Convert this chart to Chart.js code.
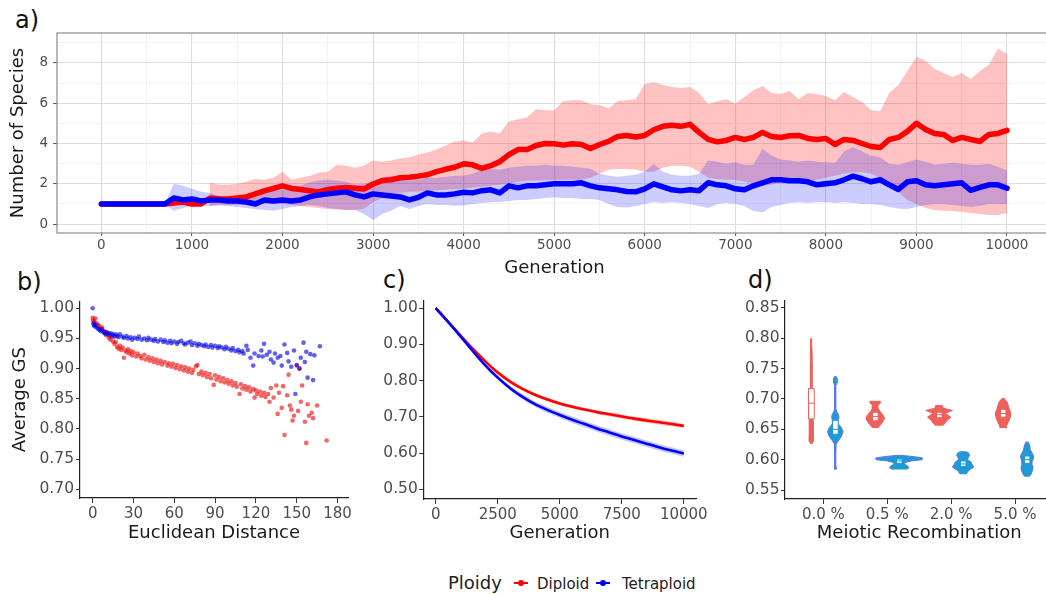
<!DOCTYPE html>
<html><head><meta charset="utf-8">
<script src="https://cdn.jsdelivr.net/npm/chart.js@4.4.1/dist/chart.umd.min.js"></script>
<style>
html,body{margin:0;padding:0;width:1046px;height:594px;overflow:hidden;background:#fff;font-family:"DejaVu Sans",sans-serif;}
canvas{position:absolute;}
.lab{position:absolute;font-size:24px;line-height:24px;color:#111;}
.leg{position:absolute;top:573px;line-height:20px;color:#222;white-space:nowrap;}
.gl{position:absolute;top:582px;height:2px;width:14px;}
.gd{position:absolute;top:580px;width:6px;height:6px;border-radius:3px;}
</style></head>
<body>
<div class="lab" style="left:15px;top:8px">a)</div>
<div class="lab" style="left:17px;top:270px">b)</div>
<div class="lab" style="left:383px;top:268px">c)</div>
<div class="lab" style="left:748px;top:268px">d)</div>

<canvas id="ca" width="1060" height="290" style="left:0;top:0"></canvas>
<canvas id="cb" width="360" height="260" style="left:0;top:290px"></canvas>
<canvas id="cc" width="350" height="260" style="left:360px;top:290px"></canvas>
<canvas id="cd" width="360" height="260" style="left:700px;top:290px"></canvas>

<div class="leg" style="left:448px;font-size:18px;">Ploidy</div>
<div class="gl" style="left:514px;background:#ff0000"></div><div class="gd" style="left:518px;background:#ff0000"></div>
<div class="leg" style="left:537px;font-size:15px;top:574px">Diploid</div>
<div class="gl" style="left:596px;background:#0000ff"></div><div class="gd" style="left:600px;background:#0000ff"></div>
<div class="leg" style="left:622px;font-size:15px;top:574px">Tetraploid</div>

<script>
// ---------------- Panel a: number of species over generations ----------------
const aGen = [0,100,200,300,400,500,600,700,800,900,1000,1100,1200,1300,1400,1500,1600,1700,1800,1900,
2000,2100,2200,2300,2400,2500,2600,2700,2800,2900,3000,3100,3200,3300,3400,3500,3600,3700,3800,3900,
4000,4100,4200,4300,4400,4500,4600,4700,4800,4900,5000,5100,5200,5300,5400,5500,5600,5700,5800,5900,
6000,6100,6200,6300,6400,6500,6600,6700,6800,6900,7000,7100,7200,7300,7400,7500,7600,7700,7800,7900,
8000,8100,8200,8300,8400,8500,8600,8700,8800,8900,9000,9100,9200,9300,9400,9500,9600,9700,9800,9900,10000];
const aTetMean = [1.0,1.0,1.0,1.0,1.0,1.0,1.0,1.0,1.3,1.2,1.25,1.15,1.2,1.2,1.15,1.15,1.1,1.0,1.2,1.15,
1.2,1.15,1.2,1.35,1.45,1.5,1.55,1.6,1.45,1.35,1.5,1.45,1.4,1.35,1.2,1.33,1.55,1.45,1.45,1.5,
1.58,1.55,1.66,1.7,1.55,1.9,1.8,1.9,1.9,1.95,2.0,2.0,2.0,2.05,1.9,1.8,1.75,1.7,1.62,1.6,
1.75,2.0,1.85,1.7,1.65,1.7,1.66,2.05,1.95,1.9,1.75,1.7,1.9,2.05,2.2,2.2,2.15,2.15,2.1,1.95,
2.0,2.05,2.2,2.38,2.25,2.1,2.2,1.95,1.72,2.1,2.15,1.95,1.9,1.95,2.0,2.05,1.68,1.82,1.95,1.95,1.78];
const aTetHi = [null,null,null,null,null,null,null,1.0,2.0,1.9,1.75,1.6,1.55,1.4,1.4,1.4,1.4,1.45,1.6,1.66,
1.7,1.75,1.9,2.07,2.16,2.2,2.16,2.1,1.95,2.0,2.1,2.3,2.4,2.2,2.15,2.2,2.3,2.3,2.35,2.4,
2.4,2.5,2.7,2.75,2.7,2.8,2.85,2.9,2.9,2.95,2.9,2.9,2.85,2.8,2.75,2.5,2.4,2.35,2.4,2.45,
2.6,2.99,2.6,2.45,2.4,2.4,2.5,3.15,3.1,3.0,3.07,2.95,2.95,3.74,3.4,3.2,3.15,3.1,3.15,3.1,
3.07,3.05,3.6,3.82,3.6,3.4,3.3,3.0,2.95,3.07,3.2,3.1,2.95,3.0,3.05,3.0,2.95,2.95,3.0,2.85,2.66];
const aTetLo = [null,null,null,null,null,null,null,1.0,0.66,0.8,0.9,0.9,0.9,0.92,0.9,0.85,0.8,0.75,0.7,0.66,
0.75,0.85,0.9,0.95,0.9,0.8,0.75,0.7,0.7,0.5,0.2,0.5,0.66,0.9,0.75,0.9,1.0,0.95,0.95,0.91,
0.92,1.0,1.05,1.08,1.1,1.15,1.2,1.2,1.25,1.3,1.33,1.3,1.3,1.25,1.25,1.2,1.0,0.85,0.83,0.9,
1.0,1.1,1.05,1.08,1.05,1.0,0.9,0.8,1.0,1.05,1.0,0.9,0.65,0.58,0.85,0.95,1.05,1.08,1.05,1.08,
1.08,1.05,1.08,1.05,1.0,1.0,0.95,0.85,0.78,0.75,0.85,0.95,1.0,1.0,0.95,0.9,0.85,0.9,1.0,1.0,1.0];
const aDipMean = [1.0,1.0,1.0,1.0,1.0,1.0,1.0,1.0,1.05,1.1,1.0,1.0,1.3,1.25,1.25,1.3,1.35,1.5,1.65,1.77,
1.9,1.77,1.72,1.66,1.6,1.72,1.78,1.82,1.78,1.74,1.99,2.16,2.2,2.3,2.33,2.38,2.45,2.6,2.72,2.82,
2.99,2.94,2.76,2.9,3.1,3.45,3.7,3.7,3.9,4.0,3.99,3.92,3.99,3.95,3.75,3.95,4.1,4.35,4.4,4.32,
4.4,4.68,4.85,4.9,4.85,4.95,4.55,4.2,4.08,4.15,4.3,4.2,4.3,4.55,4.35,4.3,4.38,4.4,4.25,4.2,
4.25,3.95,4.2,4.15,4.0,3.85,3.8,4.2,4.3,4.6,5.0,4.7,4.5,4.45,4.15,4.3,4.2,4.1,4.45,4.5,4.65];
const aDipHi = [null,null,null,null,null,null,null,null,null,null,null,null,2.07,1.95,1.95,2.0,2.1,2.24,2.2,2.3,
2.6,2.2,2.3,2.4,2.55,2.6,2.95,2.9,2.8,2.9,3.15,3.1,3.15,3.25,3.3,3.45,3.55,3.7,3.9,4.1,
4.15,4.05,4.5,4.6,4.5,5.1,5.2,5.3,5.7,5.65,5.65,6.1,6.15,6.15,5.95,5.9,5.75,6.1,6.15,6.2,
6.95,7.05,6.9,6.8,6.75,6.8,6.5,5.95,6.1,6.2,5.98,6.3,6.64,6.85,6.5,6.45,6.6,6.2,6.5,6.45,
6.35,6.15,6.55,6.3,6.06,5.65,5.6,6.5,6.9,7.6,8.3,8.1,7.7,7.5,7.3,7.5,7.2,7.6,7.9,8.7,8.45];
const aDipLo = [null,null,null,null,null,null,null,null,null,null,null,null,0.9,0.95,0.95,0.95,0.95,1.0,1.0,1.0,
1.0,0.95,0.9,0.85,0.8,0.75,0.72,0.7,0.7,0.75,1.1,1.3,1.5,1.55,1.6,1.62,1.65,1.68,1.7,1.74,
1.75,1.8,1.85,1.9,1.95,2.0,2.1,2.15,2.16,2.18,2.2,2.2,2.2,2.2,2.3,2.5,2.7,2.74,2.74,2.7,
2.6,2.6,2.8,2.9,2.9,2.85,2.6,2.3,2.24,2.2,2.2,2.1,2.0,1.9,1.95,2.08,2.1,2.1,2.15,2.2,
2.3,2.4,2.5,2.57,2.57,2.5,2.3,2.0,1.6,1.2,1.0,0.8,0.7,0.66,0.65,0.6,0.55,0.5,0.45,0.45,0.55];
const aXTicks = [0,500,1000,1500,2000,2500,3000,3500,4000,4500,5000,5500,6000,6500,7000,7500,8000,8500,9000,9500,10000];
const aXLabels = ['0','','1000','','2000','','3000','','4000','','5000','','6000','','7000','','8000','','9000','','10000'];
const aYTicks = [0,1,2,3,4,5,6,7,8,9];
const aYLabels = ['0','','2','','4','','6','','8',''];

// ---------------- Panel b: Average GS vs Euclidean distance ----------------
const bDipX = [0,0.5,1,2,3,4,5,6,7,8,9,10,11,12,13,14,15,16,17,18,19,20,21,22,23,24,25,26,27,28,29,30,32,33,35,36,38,39,41,42,44,45,47,48,50,51,53,55,56,58,59,61,62,64,65,67,68,70,71,73,74,76,77,78,80,81,83,84,86,87,89,90,91,93,94,96,97,99,100,102,103,105,106,108,109,110,112,113,115,116,118,119,120,121,123,124,126,127,129,130,131,133,135,136,137,139,140,141,143,144,145,146,147,148,150,151,152,153,154,156,157,158,159,161,162,165,172];
const bDipY = [0.984,0.980,0.978,0.983,0.975,0.972,0.970,0.966,0.968,0.962,0.960,0.955,0.958,0.951,0.948,0.952,0.945,0.941,0.944,0.936,0.933,0.938,0.931,0.935,0.918,0.930,0.927,0.932,0.925,0.929,0.922,0.927,0.920,0.925,0.921,0.917,0.923,0.915,0.919,0.913,0.917,0.911,0.915,0.909,0.913,0.907,0.911,0.905,0.909,0.903,0.908,0.901,0.906,0.899,0.904,0.897,0.902,0.895,0.900,0.893,0.898,0.904,0.906,0.891,0.895,0.889,0.893,0.886,0.891,0.884,0.873,0.889,0.882,0.886,0.879,0.884,0.877,0.881,0.875,0.879,0.872,0.876,0.870,0.858,0.874,0.867,0.871,0.865,0.869,0.862,0.866,0.852,0.864,0.858,0.862,0.855,0.860,0.853,0.858,0.845,0.868,0.852,0.872,0.825,0.860,0.835,0.871,0.790,0.856,0.890,0.839,0.832,0.814,0.822,0.905,0.830,0.900,0.845,0.872,0.812,0.777,0.841,0.822,0.827,0.818,0.839,0.781];
const bTetX = [0,0.5,1,1.5,2,3,4,5,6,7,8,9,10,11,12,13,14,15,16,17,18,19,20,22,23,25,26,28,29,31,33,34,36,38,40,41,43,45,46,48,50,52,53,55,57,58,60,62,63,65,67,68,70,72,73,75,77,78,80,82,83,85,87,88,90,92,93,95,97,98,100,102,103,105,107,108,110,111,113,114,116,118,119,122,124,125,126,128,130,131,133,134,136,138,139,141,143,144,146,148,149,150,152,153,155,156,157,158,160,162,163,167];
const bTetY = [1.000,0.975,0.972,0.970,0.973,0.968,0.966,0.964,0.962,0.965,0.960,0.958,0.961,0.957,0.959,0.955,0.958,0.956,0.953,0.957,0.954,0.952,0.957,0.953,0.951,0.954,0.950,0.952,0.948,0.951,0.949,0.953,0.948,0.950,0.947,0.951,0.948,0.946,0.949,0.945,0.948,0.944,0.947,0.943,0.946,0.942,0.945,0.941,0.944,0.946,0.942,0.940,0.943,0.945,0.939,0.942,0.938,0.941,0.939,0.937,0.940,0.936,0.939,0.935,0.938,0.934,0.937,0.935,0.932,0.936,0.933,0.930,0.934,0.929,0.931,0.927,0.929,0.925,0.938,0.931,0.918,0.905,0.925,0.921,0.930,0.920,0.941,0.923,0.928,0.915,0.910,0.925,0.918,0.921,0.905,0.940,0.926,0.912,0.903,0.930,0.858,0.906,0.900,0.918,0.943,0.911,0.928,0.885,0.924,0.881,0.922,0.937];
const bXTicks = [0,30,60,90,120,150,180];
const bXLabels = ['0','30','60','90','120','150','180'];
const bYTicks = [0.70,0.75,0.80,0.85,0.90,0.95,1.00];
const bYLabels = ['0.70','0.75','0.80','0.85','0.90','0.95','1.00'];

// ---------------- Panel c: Average GS over generations ----------------
const cGen = [0,500,1000,1500,2000,2500,3000,3500,4000,4500,5000,5500,6000,6500,7000,7500,8000,8500,9000,9500,10000];
const cDip   = [1.000,0.962,0.924,0.887,0.853,0.822,0.797,0.777,0.761,0.748,0.737,0.728,0.720,0.713,0.707,0.701,0.695,0.690,0.685,0.680,0.675];
const cDipLo = [0.999,0.959,0.920,0.883,0.849,0.817,0.792,0.772,0.756,0.743,0.732,0.723,0.715,0.708,0.701,0.695,0.689,0.683,0.678,0.673,0.669];
const cDipHi = [1.001,0.965,0.928,0.891,0.857,0.827,0.802,0.782,0.766,0.753,0.742,0.733,0.725,0.718,0.713,0.707,0.701,0.697,0.692,0.687,0.681];
const cTet   = [1.000,0.962,0.922,0.881,0.842,0.808,0.779,0.755,0.735,0.719,0.705,0.692,0.680,0.668,0.657,0.646,0.636,0.626,0.616,0.607,0.599];
const cTetLo = [0.999,0.959,0.918,0.877,0.837,0.802,0.773,0.748,0.728,0.711,0.697,0.683,0.671,0.659,0.648,0.637,0.627,0.617,0.607,0.598,0.590];
const cTetHi = [1.001,0.965,0.926,0.885,0.847,0.814,0.785,0.762,0.742,0.727,0.713,0.701,0.689,0.677,0.666,0.655,0.645,0.635,0.625,0.616,0.608];
const cXTicks = [0,2500,5000,7500,10000];
const cXLabels = ['0','2500','5000','7500','10000'];
const cYTicks = [0.50,0.60,0.70,0.80,0.90,1.00];
const cYLabels = ['0.50','0.60','0.70','0.80','0.90','1.00'];

// ---------------- Panel d: violins by meiotic recombination ----------------
const dCategories = ['0.0 %','0.5 %','2.0 %','5.0 %'];
const dDipY00 = [0.626,0.630,0.640,0.650,0.660,0.670,0.680,0.700,0.730,0.760,0.785,0.799];
const dDipW00 = [0.008,0.028,0.034,0.034,0.031,0.025,0.019,0.016,0.0125,0.011,0.009,0.006];
const dDipY05 = [0.652,0.655,0.660,0.665,0.669,0.674,0.679,0.684,0.688,0.691,0.693,0.696];
const dDipW05 = [0.039,0.0625,0.102,0.133,0.144,0.117,0.078,0.047,0.039,0.055,0.078,0.078];
const dDipY20 = [0.656,0.660,0.665,0.670,0.673,0.676,0.679,0.681,0.684,0.686,0.689];
const dDipW20 = [0.055,0.094,0.125,0.183,0.141,0.094,0.156,0.208,0.094,0.055,0.052];
const dDipY50 = [0.652,0.656,0.661,0.667,0.672,0.678,0.684,0.690,0.695,0.699,0.701];
const dDipW50 = [0.047,0.055,0.078,0.102,0.117,0.117,0.094,0.078,0.0625,0.031,0.016];
const dTetY00 = [0.584,0.587,0.592,0.610,0.626,0.631,0.638,0.646,0.653,0.659,0.664,0.669,0.674,0.679,0.684,0.700,0.722,0.727,0.733,0.737];
const dTetW00 = [0.019,0.016,0.008,0.008,0.0125,0.047,0.094,0.122,0.094,0.044,0.039,0.058,0.05,0.023,0.009,0.008,0.009,0.028,0.031,0.0125];
const dTetY05 = [0.584,0.586,0.589,0.592,0.595,0.598,0.600,0.603,0.605,0.607];
const dTetW05 = [0.094,0.148,0.141,0.094,0.078,0.1875,0.36,0.36,0.234,0.047];
const dTetY20 = [0.576,0.580,0.584,0.588,0.592,0.596,0.600,0.603,0.607,0.611,0.613];
const dTetW20 = [0.047,0.07,0.109,0.169,0.141,0.125,0.07,0.078,0.102,0.086,0.047];
const dTetY50 = [0.572,0.576,0.582,0.588,0.592,0.596,0.601,0.606,0.611,0.616,0.621,0.626,0.629];
const dTetW50 = [0.031,0.0625,0.086,0.094,0.078,0.078,0.094,0.102,0.078,0.055,0.047,0.031,0.016];
const dDipQ1  = [0.667,0.664,0.669,0.670];
const dDipMed = [0.693,0.671,0.674,0.676];
const dDipQ3  = [0.717,0.678,0.678,0.683];
const dTetQ1  = [0.642,0.594,0.589,0.594];
const dTetMed = [0.650,0.598,0.593,0.600];
const dTetQ3  = [0.665,0.601,0.598,0.606];
const dYTicks = [0.55,0.60,0.65,0.70,0.75,0.80,0.85];
const dYLabels = ['0.55','0.60','0.65','0.70','0.75','0.80','0.85'];

// ---------------- common ----------------
const RED = '#ff0000', BLUE = '#0000ff';
const TICKCOL = '#4d4d4d', TITLECOL = '#1a1a1a';
Chart.defaults.font.family = '"DejaVu Sans", sans-serif';
Chart.defaults.animation = false;
Chart.defaults.plugins.legend.display = false;
Chart.defaults.plugins.tooltip.enabled = false;

const xy = (xs, ys) => xs.map((x, i) => ({x: x, y: ys[i]}));
const setTicks = vals => s => { s.ticks = vals.map(v => ({value: v})); };

function classicAxis(o) {
  return {
    type: 'linear', min: o.min, max: o.max,
    afterBuildTicks: setTicks(o.ticks),
    afterFit: s => { if (s.isHorizontal()) s.height = o.size; else s.width = o.size; },
    ticks: {callback: (v, i) => o.labels[i], autoSkip: false, maxRotation: 0, minRotation: 0,
            padding: o.pad, color: TICKCOL, font: {size: o.fs}},
    grid: {display: true, drawOnChartArea: false, drawTicks: true, tickLength: o.tl, tickColor: '#333', tickWidth: 1},
    border: {display: true, color: '#222', width: 1.2},
    title: o.title ? {display: true, text: o.title, color: TITLECOL, font: {size: 18}, padding: o.tpad} : {display: false}
  };
}

const panelBorder = {
  id: 'panelBorder',
  afterDraw(chart) {
    const a = chart.chartArea, ctx = chart.ctx;
    ctx.save(); ctx.strokeStyle = '#8c8c8c'; ctx.lineWidth = 1.2;
    ctx.strokeRect(a.left, a.top, a.right - a.left, a.bottom - a.top);
    ctx.restore();
  }
};

// ---------------- chart a ----------------
const lineA = {tension: 0, pointRadius: 0, borderJoinStyle: 'round', borderCapStyle: 'round'};
new Chart(document.getElementById('ca'), {
  type: 'line',
  data: {datasets: [
    Object.assign({data: xy(aGen, aTetMean), borderColor: BLUE, borderWidth: 5.5, fill: false}, lineA),
    Object.assign({data: xy(aGen, aDipMean), borderColor: RED, borderWidth: 5.5, fill: false}, lineA),
    Object.assign({data: xy(aGen, aTetHi), borderWidth: 0, borderColor: 'rgba(0,0,0,0)', backgroundColor: 'rgba(0,0,255,0.2)', fill: '+1'}, lineA),
    Object.assign({data: xy(aGen, aTetLo), borderWidth: 0, borderColor: 'rgba(0,0,0,0)', fill: false}, lineA),
    Object.assign({data: xy(aGen, aDipHi), borderWidth: 0, borderColor: 'rgba(0,0,0,0)', backgroundColor: 'rgba(255,0,0,0.24)', fill: '+1'}, lineA),
    Object.assign({data: xy(aGen, aDipLo), borderWidth: 0, borderColor: 'rgba(0,0,0,0)', fill: false}, lineA)
  ]},
  options: {
    responsive: false, devicePixelRatio: 1,
    layout: {padding: {top: 33, right: 8, bottom: 0, left: 0}},
    scales: {
      x: {type: 'linear', min: -490, max: 10497,
        afterBuildTicks: setTicks(aXTicks),
        afterFit: s => { s.height = 57; },
        ticks: {callback: (v, i) => aXLabels[i], autoSkip: false, maxRotation: 0, minRotation: 0, padding: 1, color: TICKCOL, font: {size: 13.5}},
        grid: {color: c => (c.tick && c.tick.value % 1000 === 0) ? '#dedede' : '#f0f0f0',
               lineWidth: c => (c.tick && c.tick.value % 1000 === 0) ? 1.1 : 0.8,
               tickLength: 3, tickWidth: 1,
               tickColor: c => (c.tick && c.tick.value % 1000 === 0) ? '#555' : 'rgba(0,0,0,0)'},
        border: {display: false},
        title: {display: true, text: 'Generation', color: TITLECOL, font: {size: 18}, padding: {top: 0, bottom: 11.2}}
      },
      y: {type: 'linear', min: -0.44, max: 9.48,
        afterBuildTicks: setTicks(aYTicks),
        afterFit: s => { s.width = 57; },
        ticks: {callback: (v, i) => aYLabels[i], autoSkip: false, padding: 5, color: TICKCOL, font: {size: 13.5}},
        grid: {color: c => (c.tick && c.tick.value % 2 === 0) ? '#dedede' : '#f0f0f0',
               lineWidth: c => (c.tick && c.tick.value % 2 === 0) ? 1.1 : 0.8,
               tickLength: 4, tickWidth: 1,
               tickColor: c => (c.tick && c.tick.value % 2 === 0) ? '#555' : 'rgba(0,0,0,0)'},
        border: {display: false},
        title: {display: true, text: 'Number of Species', color: TITLECOL, font: {size: 18}, padding: {top: 7.2, bottom: 0}}
      }
    }
  },
  plugins: [panelBorder]
});

// ---------------- chart b ----------------
new Chart(document.getElementById('cb'), {
  type: 'scatter',
  data: {datasets: [
    {data: xy(bTetX, bTetY), backgroundColor: 'rgba(0,0,235,0.62)', pointRadius: 2.3, pointBorderWidth: 0},
    {data: xy(bDipX, bDipY), backgroundColor: 'rgba(240,0,0,0.6)', pointRadius: 2.3, pointBorderWidth: 0}
  ]},
  options: {
    responsive: false, devicePixelRatio: 1,
    layout: {padding: {top: 10, right: 12, bottom: 0, left: 0}},
    scales: {
      x: classicAxis({min: -9.3, max: 187.7, ticks: bXTicks, labels: bXLabels, size: 52, pad: 2, tl: 5, fs: 15,
                      title: 'Euclidean Distance', tpad: {top: 0, bottom: 6.2}}),
      y: classicAxis({min: 0.6857, max: 1.0115, ticks: bYTicks, labels: bYLabels, size: 80, pad: 2, tl: 4, fs: 15.5,
                      title: 'Average GS', tpad: {top: 9.2, bottom: 0}})
    }
  }
});

// ---------------- chart c ----------------
const lineC = {tension: 0.4, cubicInterpolationMode: 'monotone', pointRadius: 0};
new Chart(document.getElementById('cc'), {
  type: 'line',
  data: {datasets: [
    Object.assign({data: xy(cGen, cTet), borderColor: BLUE, borderWidth: 2.6, fill: false}, lineC),
    Object.assign({data: xy(cGen, cDip), borderColor: RED, borderWidth: 2.6, fill: false}, lineC),
    Object.assign({data: xy(cGen, cTetHi), borderWidth: 0, borderColor: 'rgba(0,0,0,0)', backgroundColor: 'rgba(0,0,255,0.22)', fill: '+1'}, lineC),
    Object.assign({data: xy(cGen, cTetLo), borderWidth: 0, borderColor: 'rgba(0,0,0,0)', fill: false}, lineC),
    Object.assign({data: xy(cGen, cDipHi), borderWidth: 0, borderColor: 'rgba(0,0,0,0)', backgroundColor: 'rgba(255,0,0,0.22)', fill: '+1'}, lineC),
    Object.assign({data: xy(cGen, cDipLo), borderWidth: 0, borderColor: 'rgba(0,0,0,0)', fill: false}, lineC)
  ]},
  options: {
    responsive: false, devicePixelRatio: 1,
    layout: {padding: {top: 10, right: 7.3, bottom: 0, left: 0}},
    scales: {
      x: classicAxis({min: -500, max: 10500, ticks: cXTicks, labels: cXLabels, size: 51, pad: 2, tl: 5, fs: 15,
                      title: 'Generation', tpad: {top: 0, bottom: 6.2}}),
      y: classicAxis({min: 0.4733, max: 1.02, ticks: cYTicks, labels: cYLabels, size: 63.3, pad: 1.5, tl: 4, fs: 15.5})
    }
  }
});

// ---------------- chart d ----------------
const DODGE = 0.1875, BOXW = 0.045;
const DIPFILL = '#f0605a', TETFILL = '#1e9ad4', TETLINE = '#5a78e6';
function violin(center, ys, ws) {
  const right = ys.map((y, i) => ({x: center + ws[i], y: y}));
  const left = ys.map((y, i) => ({x: center - ws[i], y: y})).reverse();
  return right.concat(left);
}
function box(center, q1, q3) {
  return [{x: center - BOXW, y: q1}, {x: center + BOXW, y: q1}, {x: center + BOXW, y: q3},
          {x: center - BOXW, y: q3}, {x: center - BOXW, y: q1}];
}
const dipV = [[dDipY00, dDipW00], [dDipY05, dDipW05], [dDipY20, dDipW20], [dDipY50, dDipW50]];
const tetV = [[dTetY00, dTetW00], [dTetY05, dTetW05], [dTetY20, dTetW20], [dTetY50, dTetW50]];
const medSets = [], boxSets = [], vioSets = [];
dCategories.forEach((cat, k) => {
  const cr = k - DODGE, cb = k + DODGE;
  medSets.push({data: [{x: cr - BOXW, y: dDipMed[k]}, {x: cr + BOXW, y: dDipMed[k]}], borderColor: DIPFILL, borderWidth: 1, pointRadius: 0, fill: false});
  medSets.push({data: [{x: cb - BOXW, y: dTetMed[k]}, {x: cb + BOXW, y: dTetMed[k]}], borderColor: TETFILL, borderWidth: 1, pointRadius: 0, fill: false});
  boxSets.push({data: box(cr, dDipQ1[k], dDipQ3[k]), borderColor: DIPFILL, borderWidth: 1, backgroundColor: '#ffffff', pointRadius: 0, fill: 'shape', tension: 0});
  boxSets.push({data: box(cb, dTetQ1[k], dTetQ3[k]), borderColor: TETFILL, borderWidth: 1, backgroundColor: '#ffffff', pointRadius: 0, fill: 'shape', tension: 0});
  vioSets.push({data: violin(cr, dipV[k][0], dipV[k][1]), borderColor: DIPFILL, borderWidth: 1, backgroundColor: DIPFILL, pointRadius: 0, fill: 'shape', tension: 0});
  vioSets.push({data: violin(cb, tetV[k][0], tetV[k][1]), borderColor: TETLINE, borderWidth: 1, backgroundColor: TETFILL, pointRadius: 0, fill: 'shape', tension: 0});
});
new Chart(document.getElementById('cd'), {
  type: 'line',
  data: {datasets: medSets.concat(boxSets, vioSets)},
  options: {
    responsive: false, devicePixelRatio: 1,
    layout: {padding: {top: 10, right: 6.6, bottom: 0, left: 0}},
    scales: {
      x: classicAxis({min: -0.6, max: 3.6, ticks: [0, 1, 2, 3], labels: dCategories, size: 51, pad: 2, tl: 5, fs: 15,
                      title: 'Meiotic Recombination', tpad: {top: 0, bottom: 6.2}}),
      y: classicAxis({min: 0.5353, max: 0.8615, ticks: dYTicks, labels: dYLabels, size: 85, pad: 1.5, tl: 4, fs: 15.5})
    }
  }
});
</script>
</body></html>
